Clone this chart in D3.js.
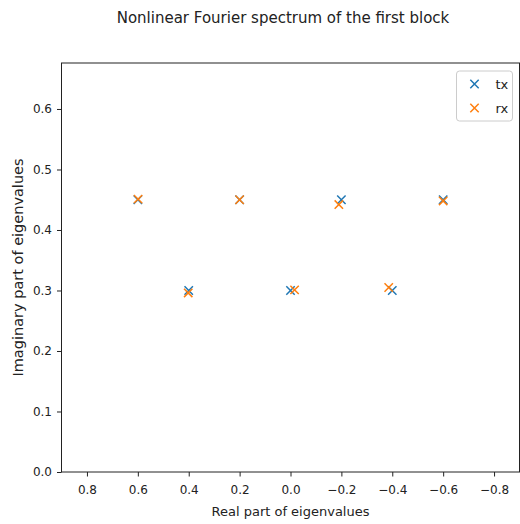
<!DOCTYPE html>
<html>
<head>
<meta charset="utf-8">
<script src="https://cdn.jsdelivr.net/npm/d3@7"></script>
<style>
  body { margin: 0; background: #fff; }
  svg { font-family: "DejaVu Sans", sans-serif; }
</style>
</head>
<body>
<div id="chart"></div>
<script>
// eigenvalues of the first block, transmitted and received
var txReal = [0.6, 0.4, 0.2, 0.0, -0.2, -0.4, -0.6];
var txImag = [0.45, 0.3, 0.45, 0.3, 0.45, 0.3, 0.45];
var rxReal = [0.599, 0.402, 0.2, -0.016, -0.19, -0.386, -0.6];
var rxImag = [0.451, 0.296, 0.45, 0.301, 0.442, 0.305, 0.448];
var xTicks = [0.8, 0.6, 0.4, 0.2, 0.0, -0.2, -0.4, -0.6, -0.8];
var yTicks = [0.0, 0.1, 0.2, 0.3, 0.4, 0.5, 0.6];

var margin = { left: 61.5, right: 0.5, top: 63, bottom: 52 };
var width = 520 - margin.left - margin.right;
var height = 524 - margin.top - margin.bottom;

var svg = d3.select("#chart")
  .append("svg")
  .attr("width", 520)
  .attr("height", 524);

svg.append("text")
  .attr("x", 283)
  .attr("y", 23)
  .attr("text-anchor", "middle")
  .attr("font-size", "15px")
  .attr("fill", "#222")
  .text("Nonlinear Fourier spectrum of the first block");

var g = svg.append("g")
  .attr("transform", "translate(" + margin.left + ", " + margin.top + ")");

var x = d3.scaleLinear().domain([0.9, -0.9]).range([0, width]);
var y = d3.scaleLinear().domain([0, 0.676]).range([height, 0]);

var fmt = function (d) {
  return (d < 0 ? "\u2212" : "") + Math.abs(d).toFixed(1);
};

var xAxis = g.append("g")
  .attr("transform", "translate(0, " + height + ")")
  .call(d3.axisBottom(x).tickValues(xTicks).tickFormat(fmt).tickSize(4.5).tickPadding(9));

var yAxis = g.append("g")
  .call(d3.axisLeft(y).tickValues(yTicks).tickFormat(fmt).tickSize(4.5).tickPadding(5));

[xAxis, yAxis].forEach(function (a) {
  a.selectAll("text").attr("font-size", "12px").attr("fill", "#222")
    .attr("font-family", "DejaVu Sans, sans-serif");
  a.selectAll("line").attr("stroke", "#222");
  a.select(".domain").remove();
});

// frame
g.append("rect")
  .attr("width", width)
  .attr("height", height)
  .attr("fill", "none")
  .attr("stroke", "#222")
  .attr("stroke-width", 1);

g.append("text")
  .attr("x", width / 2)
  .attr("y", height + 44)
  .attr("text-anchor", "middle")
  .attr("font-size", "13px")
  .attr("fill", "#222")
  .text("Real part of eigenvalues");

g.append("text")
  .attr("transform", "rotate(-90)")
  .attr("x", -height / 2)
  .attr("y", -38.5)
  .attr("text-anchor", "middle")
  .attr("font-size", "14.5px")
  .attr("fill", "#222")
  .text("Imaginary part of eigenvalues");

function cross(sel, size) {
  return sel.attr("d", "M" + (-size) + "," + (-size) + "L" + size + "," + size +
    "M" + (-size) + "," + size + "L" + size + "," + (-size));
}

var series = [
  { name: "tx", re: txReal, im: txImag, color: "#1f77b4" },
  { name: "rx", re: rxReal, im: rxImag, color: "#ff7f0e" }
];

series.forEach(function (s) {
  var pts = s.re.map(function (r, i) { return [r, s.im[i]]; });
  g.append("g").selectAll("path")
    .data(pts)
    .enter()
    .append("path")
    .call(cross, 4.2)
    .attr("transform", function (d) {
      return "translate(" + x(d[0]) + "," + y(d[1]) + ")";
    })
    .attr("stroke", s.color)
    .attr("stroke-width", 1.5)
    .attr("fill", "none");
});

// legend
var legend = g.append("g")
  .attr("transform", "translate(" + (width - 63) + ", 8)");

legend.append("rect")
  .attr("width", 56)
  .attr("height", 50)
  .attr("rx", 3)
  .attr("fill", "#fff")
  .attr("fill-opacity", 0.8)
  .attr("stroke", "#ccc");

series.forEach(function (s, i) {
  var row = legend.append("g").attr("transform", "translate(0, " + (13 + i * 24) + ")");
  row.append("path")
    .call(cross, 4.2)
    .attr("transform", "translate(18, 0)")
    .attr("stroke", s.color)
    .attr("stroke-width", 1.5);
  row.append("text")
    .attr("x", 39)
    .attr("y", 4.5)
    .attr("font-size", "13px")
    .attr("fill", "#222")
    .text(s.name);
});
</script>
</body>
</html>
